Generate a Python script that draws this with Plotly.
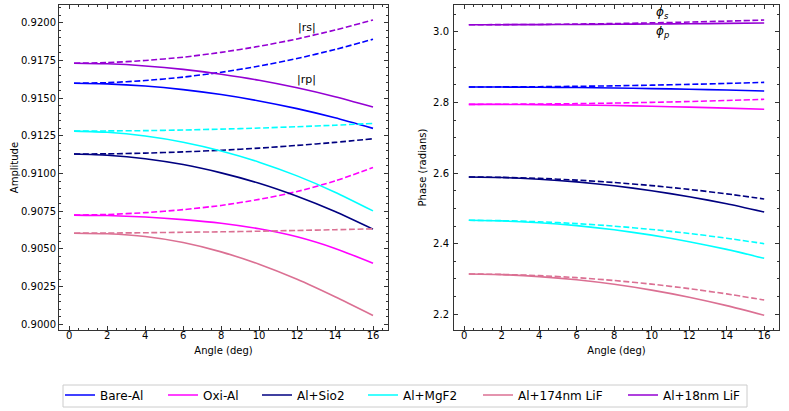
import plotly.graph_objects as go
from plotly.subplots import make_subplots

# === Data ===
angle = [0.25, 2, 4, 6, 8, 10, 12, 14, 16]

coatings = ["Bare-Al", "Oxi-Al", "Al+Sio2", "Al+MgF2", "Al+174nm LiF", "Al+18nm LiF"]
colors = ["#0000FF", "#FF00FF", "#000080", "#00FFFF", "#DB7093", "#9400D3"]

# amplitude |rs| (dashed) and |rp| (solid)
amp_rs_bare = [0.91598, 0.91602, 0.91616, 0.91639, 0.91671, 0.91712, 0.91762, 0.91822, 0.91890]
amp_rp_bare = [0.91598, 0.91594, 0.91580, 0.91556, 0.91523, 0.91481, 0.91430, 0.91369, 0.91299]
amp_rs_oxi = [0.90724, 0.90728, 0.90740, 0.90760, 0.90788, 0.90828, 0.90880, 0.90950, 0.91040]
amp_rp_oxi = [0.90724, 0.90721, 0.90711, 0.90694, 0.90670, 0.90633, 0.90580, 0.90503, 0.90405]
amp_rs_sio2 = [0.91129, 0.91130, 0.91135, 0.91143, 0.91154, 0.91168, 0.91186, 0.91206, 0.91230]
amp_rp_sio2 = [0.91129, 0.91121, 0.91098, 0.91059, 0.91004, 0.90935, 0.90849, 0.90748, 0.90631]
amp_rs_mgf2 = [0.91281, 0.91282, 0.91284, 0.91288, 0.91294, 0.91301, 0.91310, 0.91320, 0.91332]
amp_rp_mgf2 = [0.91281, 0.91273, 0.91248, 0.91207, 0.91149, 0.91075, 0.90984, 0.90876, 0.90752]
amp_rs_lif174 = [0.90604, 0.90605, 0.90607, 0.90610, 0.90613, 0.90617, 0.90622, 0.90627, 0.90633]
amp_rp_lif174 = [0.90604, 0.90600, 0.90582, 0.90542, 0.90480, 0.90398, 0.90298, 0.90182, 0.90058]
amp_rs_lif18 = [0.91731, 0.91735, 0.91749, 0.91771, 0.91803, 0.91843, 0.91892, 0.91951, 0.92018]
amp_rp_lif18 = [0.91731, 0.91727, 0.91713, 0.91690, 0.91658, 0.91618, 0.91568, 0.91509, 0.91441]

# phase phi_s (dashed) and phi_p (solid), radians
ph_s_bare = [2.8435, 2.8437, 2.8443, 2.8454, 2.8468, 2.8487, 2.8509, 2.8536, 2.8567]
ph_p_bare = [2.8435, 2.8433, 2.8428, 2.8419, 2.8407, 2.8390, 2.8371, 2.8348, 2.8321]
ph_s_oxi = [2.7944, 2.7946, 2.7953, 2.7964, 2.7980, 2.8000, 2.8024, 2.8053, 2.8086]
ph_p_oxi = [2.7944, 2.7942, 2.7935, 2.7924, 2.7909, 2.7889, 2.7865, 2.7836, 2.7803]
ph_s_sio2 = [2.5887, 2.5877, 2.5848, 2.5800, 2.5731, 2.5644, 2.5537, 2.5410, 2.5264]
ph_p_sio2 = [2.5887, 2.5872, 2.5825, 2.5748, 2.5639, 2.5500, 2.5330, 2.5129, 2.4896]
ph_s_mgf2 = [2.4661, 2.4651, 2.4620, 2.4568, 2.4496, 2.4403, 2.4289, 2.4154, 2.3999]
ph_p_mgf2 = [2.4661, 2.4644, 2.4594, 2.4510, 2.4392, 2.4241, 2.4056, 2.3838, 2.3585]
ph_s_lif174 = [2.3141, 2.3130, 2.3095, 2.3038, 2.2957, 2.2854, 2.2727, 2.2578, 2.2405]
ph_p_lif174 = [2.3141, 2.3123, 2.3068, 2.2977, 2.2849, 2.2684, 2.2484, 2.2246, 2.1972]
ph_s_lif18 = [3.0198, 3.0200, 3.0206, 3.0217, 3.0231, 3.0250, 3.0273, 3.0300, 3.0331]
ph_p_lif18 = [3.0198, 3.0199, 3.0201, 3.0205, 3.0210, 3.0217, 3.0225, 3.0235, 3.0246]

amp_rs = [amp_rs_bare, amp_rs_oxi, amp_rs_sio2, amp_rs_mgf2, amp_rs_lif174, amp_rs_lif18]
amp_rp = [amp_rp_bare, amp_rp_oxi, amp_rp_sio2, amp_rp_mgf2, amp_rp_lif174, amp_rp_lif18]
ph_s = [ph_s_bare, ph_s_oxi, ph_s_sio2, ph_s_mgf2, ph_s_lif174, ph_s_lif18]
ph_p = [ph_p_bare, ph_p_oxi, ph_p_sio2, ph_p_mgf2, ph_p_lif174, ph_p_lif18]

# legend entry left edges (px) in the bottom legend row
legend_x_px = [60, 163, 257, 363, 478, 623]

FONT = "DejaVu Sans"
DASH = "6px,2.6px"
W, H = 789, 411

fig = make_subplots(rows=1, cols=2)

for i, name in enumerate(coatings):
    c = colors[i]
    lg = "legend" if i == 0 else "legend%d" % (i + 1)
    fig.add_trace(go.Scatter(x=angle, y=amp_rs[i], mode="lines",
                             line=dict(color=c, width=1.6, dash=DASH, shape="spline", smoothing=0.6),
                             showlegend=False), row=1, col=1)
    fig.add_trace(go.Scatter(x=angle, y=amp_rp[i], mode="lines",
                             line=dict(color=c, width=1.6, shape="spline", smoothing=0.6),
                             name=name, showlegend=True, legend=lg), row=1, col=1)
    fig.add_trace(go.Scatter(x=angle, y=ph_s[i], mode="lines",
                             line=dict(color=c, width=1.6, dash=DASH, shape="spline", smoothing=0.6),
                             showlegend=False), row=1, col=2)
    fig.add_trace(go.Scatter(x=angle, y=ph_p[i], mode="lines",
                             line=dict(color=c, width=1.6, shape="spline", smoothing=0.6),
                             showlegend=False), row=1, col=2)

# === Axes ===
axis_common = dict(
    showline=True, linecolor="#333333", linewidth=1, mirror="allticks",
    ticks="inside", ticklen=4, tickcolor="#333333", tickwidth=1,
    showgrid=False, zeroline=False, automargin=False,
    tickfont=dict(family=FONT, size=10, color="black"),
    title_font=dict(family=FONT, size=10, color="black"),
)

fig.update_xaxes(**axis_common, range=[-0.54, 16.79], dtick=2, tick0=0,
                 minor=dict(ticks="inside", ticklen=2, tickcolor="#333333", dtick=0.5, showgrid=False),
                 title_text="Angle (deg)", title_standoff=6, ticklabelstandoff=-4)
fig.update_xaxes(domain=[59 / W, 388 / W], row=1, col=1)
fig.update_xaxes(domain=[454 / W, 779 / W], row=1, col=2)

fig.update_yaxes(**axis_common, row=1, col=1, range=[0.89962, 0.92117], dtick=0.0025, tick0=0.9,
                 tickformat=".4f", title_text="Amplitude", title_standoff=0, ticklabelstandoff=0,
                 minor=dict(ticks="inside", ticklen=2, tickcolor="#333333", dtick=0.0005, showgrid=False))
fig.update_yaxes(**axis_common, row=1, col=2, range=[2.1556, 3.0756], dtick=0.2, tick0=2.2,
                 tickformat=".1f", title_text="Phase (radians)", title_standoff=4, ticklabelstandoff=2,
                 minor=dict(ticks="inside", ticklen=2, tickcolor="#333333", dtick=0.05, showgrid=False))

# === Labels ===
ann_font = dict(family=FONT, size=11, color="black")
fig.add_annotation(x=12.5, y=0.91965, xref="x", yref="y", text="|rs|", showarrow=False, font=ann_font)
fig.add_annotation(x=12.5, y=0.9162, xref="x", yref="y", text="|rp|", showarrow=False, font=ann_font)
fig.add_annotation(x=10.6, y=3.052, xref="x2", yref="y2", text="<i>ϕ<sub>s</sub></i>", showarrow=False,
                   font=dict(family=FONT, size=12, color="black"))
fig.add_annotation(x=10.6, y=2.998, xref="x2", yref="y2", text="<i>ϕ<sub>p</sub></i>", showarrow=False,
                   font=dict(family=FONT, size=12, color="black"))

# === Legend row: one legend per entry, inside a single frame ===
legend_style = dict(orientation="h", xref="container", yref="container", xanchor="left",
                    y=1 - 395 / H, yanchor="middle", bgcolor="rgba(0,0,0,0)", borderwidth=0,
                    font=dict(family=FONT, size=12, color="black"), itemwidth=30)
legends = {}
for i, xp in enumerate(legend_x_px):
    key = "legend" if i == 0 else "legend%d" % (i + 1)
    legends[key] = dict(legend_style, x=xp / W)

fig.add_shape(type="rect", xref="paper", yref="paper",
              x0=63 / W, x1=747 / W, y0=(330 - 407) / 325, y1=(330 - 385) / 325,
              line=dict(color="#cccccc", width=1), fillcolor="white", layer="below")

fig.update_layout(
    width=W, height=H,
    margin=dict(l=0, r=0, t=5, b=81, autoexpand=False),
    paper_bgcolor="white", plot_bgcolor="white",
    font=dict(family=FONT, size=10, color="black"),
    **legends,
)

# page body has a default 8px margin; drop it so the figure sits at the window origin
fig.write_html("out.html", config={"displayModeBar": False},
               post_script="document.body.style.margin='0';")
